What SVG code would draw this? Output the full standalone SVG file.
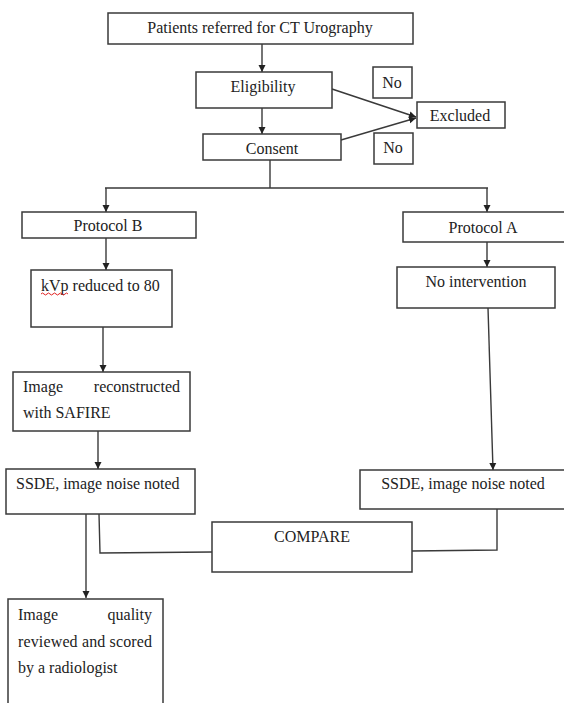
<svg xmlns="http://www.w3.org/2000/svg" width="564" height="703" viewBox="0 0 564 703">
<defs>
<style>
.box{fill:#fff;stroke:#3a3a3a;stroke-width:1.5}
.t{font-family:"Liberation Serif","Times New Roman",serif;font-size:16px;fill:#222}
.c{text-anchor:middle}
.ln{fill:none;stroke:#3a3a3a;stroke-width:1.4}
</style>
<marker id="ah" markerWidth="8" markerHeight="8" refX="7" refY="4" orient="auto" markerUnits="userSpaceOnUse">
<path d="M0,0.5 L7,4 L0,7.5 Z" fill="#222"/>
</marker>
</defs>
<rect width="564" height="703" fill="#fff"/>
<g id="connectors">
<line class="ln" x1="262" y1="44" x2="262" y2="72" marker-end="url(#ah)"/>
<line class="ln" x1="262" y1="108" x2="262" y2="134" marker-end="url(#ah)"/>
<line class="ln" x1="332" y1="89" x2="416" y2="117" marker-end="url(#ah)"/>
<line class="ln" x1="341" y1="140" x2="416" y2="118" marker-end="url(#ah)"/>
<path class="ln" d="M270,160 L270,188 M105,188 L488,188"/>
<line class="ln" x1="106" y1="188" x2="106" y2="212" marker-end="url(#ah)"/>
<line class="ln" x1="487" y1="188" x2="487" y2="212" marker-end="url(#ah)"/>
<line class="ln" x1="106" y1="238" x2="106" y2="270" marker-end="url(#ah)"/>
<line class="ln" x1="487" y1="242" x2="487" y2="267" marker-end="url(#ah)"/>
<line class="ln" x1="103" y1="327" x2="103" y2="372" marker-end="url(#ah)"/>
<line class="ln" x1="488" y1="308" x2="493" y2="470" marker-end="url(#ah)"/>
<line class="ln" x1="98" y1="431" x2="98" y2="469" marker-end="url(#ah)"/>
<line class="ln" x1="86" y1="514" x2="86" y2="598" marker-end="url(#ah)"/>
<path class="ln" d="M99,514 L100,553 L212,552"/>
<path class="ln" d="M412,551 L497,550 L497,509"/>
</g>
<g id="patients">
<rect class="box" x="108" y="13" width="305" height="31"/>
<text class="t c" x="260" y="33">Patients referred for CT Urography</text>
</g>
<g id="eligibility">
<rect class="box" x="196" y="72" width="136" height="36"/>
<text class="t c" x="263" y="92">Eligibility</text>
</g>
<g id="no1">
<rect class="box" x="373" y="67" width="39" height="31"/>
<text class="t c" x="392" y="88">No</text>
</g>
<g id="excluded">
<rect class="box" x="417" y="102" width="88" height="26"/>
<text class="t c" x="460" y="121">Excluded</text>
</g>
<g id="consent">
<rect class="box" x="203" y="134" width="138" height="26"/>
<text class="t c" x="272" y="154">Consent</text>
</g>
<g id="no2">
<rect class="box" x="374" y="133" width="39" height="31"/>
<text class="t c" x="393" y="153">No</text>
</g>
<g id="protocolB">
<rect class="box" x="22" y="212" width="174" height="26"/>
<text class="t c" x="108" y="231">Protocol B</text>
</g>
<g id="protocolA">
<rect class="box" x="403" y="212" width="165" height="30"/>
<text class="t c" x="483" y="233">Protocol A</text>
</g>
<g id="kvp">
<rect class="box" x="31" y="270" width="141" height="57"/>
<text class="t" x="41" y="291">kVp reduced to 80</text>
<path d="M41,294 q1.5,-2 3,0 t3,0 t3,0 t3,0 t3,0 t3,0 t3,0 t3,0 t3,0" fill="none" stroke="#e02020" stroke-width="1"/>
</g>
<g id="nointervention">
<rect class="box" x="397" y="267" width="158" height="41"/>
<text class="t c" x="476" y="287">No intervention</text>
</g>
<g id="reconstructed">
<rect class="box" x="13" y="372" width="177" height="59"/>
<text class="t" x="23" y="392">Image</text>
<text class="t" x="180" y="392" text-anchor="end">reconstructed</text>
<text class="t" x="23" y="418">with SAFIRE</text>
</g>
<g id="ssdeB">
<rect class="box" x="6" y="469" width="189" height="45"/>
<text class="t" x="16" y="489">SSDE, image noise noted</text>
</g>
<g id="ssdeA">
<rect class="box" x="360" y="470" width="208" height="39"/>
<text class="t c" x="463" y="489">SSDE, image noise noted</text>
</g>
<g id="compare">
<rect class="box" x="212" y="522" width="200" height="50"/>
<text class="t c" x="312" y="542">COMPARE</text>
</g>
<g id="quality">
<rect class="box" x="8" y="599" width="155" height="120"/>
<text class="t" x="18" y="620">Image</text>
<text class="t" x="152" y="620" text-anchor="end">quality</text>
<text class="t" x="18" y="647" textLength="134" lengthAdjust="spacing">reviewed and scored</text>
<text class="t" x="18" y="673">by a radiologist</text>
</g>
</svg>
